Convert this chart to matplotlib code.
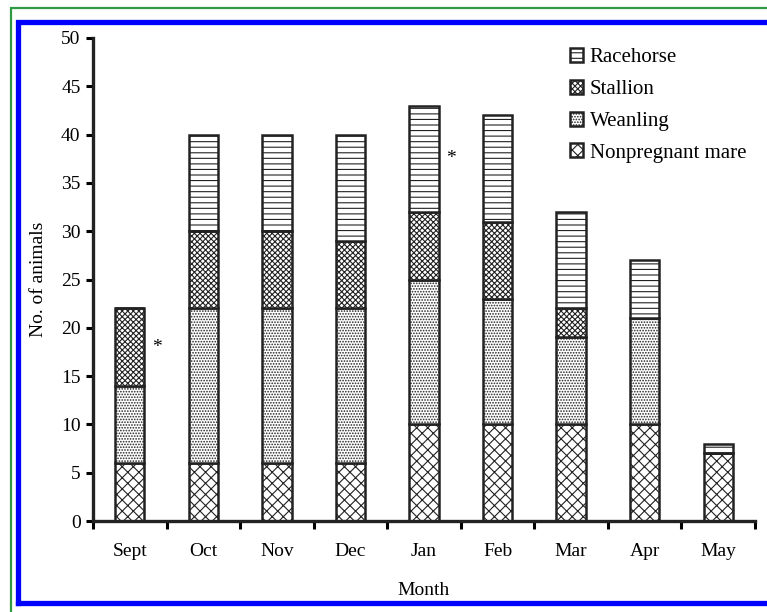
import numpy as np
import matplotlib
matplotlib.use("Agg")
from matplotlib import pyplot as plt
from matplotlib.lines import Line2D

plt.rcParams['font.family'] = ['Liberation Serif', 'DejaVu Serif']
plt.rcParams['hatch.linewidth'] = 0.8

# Data
months = ["Sept", "Oct", "Nov", "Dec", "Jan", "Feb", "Mar", "Apr", "May"]
nonpregnant = [6, 6, 6, 6, 10, 10, 10, 10, 7]
weanling = [8, 16, 16, 16, 15, 13, 9, 11, 0]
stallion = [8, 8, 8, 7, 7, 8, 3, 0, 0]
racehorse = [0, 10, 10, 11, 11, 11, 10, 6, 1]
starMonths = ["Sept", "Jan"]
starHeights = [18, 37.5]

W, H = 767, 612
fig = plt.figure(figsize=(W/100, H/100), dpi=100)
ax = fig.add_axes([93/W, 1 - 521/H, (755 - 93)/W, (521 - 38)/H])

x = np.arange(len(months))
width = 0.4
series = [
    ("Nonpregnant mare", nonpregnant, "xxx"),
    ("Weanling", weanling, "......"),
    ("Stallion", stallion, "xxxxxx"),
    ("Racehorse", racehorse, "---"),
]
bottom = np.zeros(len(months))
handles = []
for name, vals, hatch in series:
    vals = np.array(vals, dtype=float)
    bars = ax.bar(x, vals, width, bottom=bottom, color="white", edgecolor="#222222",
                  linewidth=1.8, hatch=hatch, label=name)
    handles.append(bars)
    bottom += vals

# asterisks beside Sept and Jan
for m, h in zip(starMonths, starHeights):
    ax.text(months.index(m) + 0.37, h, "*", ha="center", va="center", fontsize=14)

ax.set_xlim(-0.5, len(months) - 0.5)
ax.set_ylim(0, 50)
ax.set_yticks(np.arange(0, 51, 5))
ax.set_xticks(x)
ax.set_xticklabels(months)
ax.set_xticks(np.arange(-0.5, len(months), 1), minor=True)
ax.tick_params(axis="x", which="major", length=0, pad=16, labelsize=14)
ax.tick_params(axis="x", which="minor", length=6, width=2.2, direction="out")
ax.tick_params(axis="y", length=5, width=2.2, labelsize=14, pad=4)
for s in ["top", "right"]:
    ax.spines[s].set_visible(False)
for s in ["left", "bottom"]:
    ax.spines[s].set_linewidth(2.4)
    ax.spines[s].set_color("#222222")

ax.set_ylabel("No. of animals", fontsize=14, labelpad=10)
ax.set_xlabel("Month", fontsize=14, labelpad=16)

leg = ax.legend(handles[::-1], [s[0] for s in series][::-1], loc="upper right",
                bbox_to_anchor=(1.015, 1.018), frameon=False, fontsize=15,
                handlelength=0.65, handleheight=0.65, handletextpad=0.3,
                labelspacing=0.6)

# frame borders (pixel positions converted to figure fractions)
def px(xp, yp):
    return xp / W, 1 - yp / H

blue = [px(18, 603), px(18, 21.5), px(780, 21.5)]
fig.add_artist(Line2D([p[0] for p in blue], [p[1] for p in blue], color="#0000ff",
                      lw=3.8, transform=fig.transFigure, solid_joinstyle="miter"))
fig.add_artist(Line2D([px(18, 603)[0], px(780, 603)[0]], [px(18, 603)[1]] * 2,
                      color="#0000ff", lw=3.8, transform=fig.transFigure))
green = [px(10.5, 620), px(10.5, 7.5), px(780, 7.5)]
fig.add_artist(Line2D([p[0] for p in green], [p[1] for p in green], color="#2e9a44",
                      lw=1.6, transform=fig.transFigure, solid_joinstyle="miter"))

fig.savefig("out.png", dpi=100)
